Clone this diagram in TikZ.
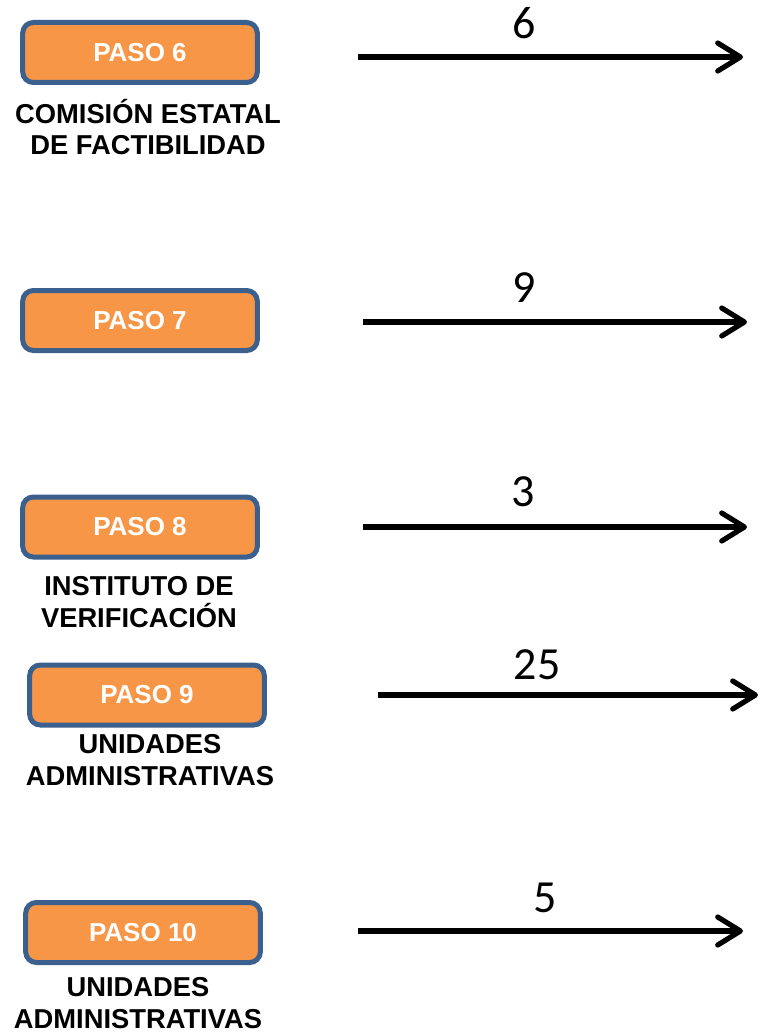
\documentclass[tikz,border=0pt]{standalone}
\usepackage{fontspec}
\setmainfont{Liberation Sans}
\newfontfamily\numfont{Carlito}
\usetikzlibrary{arrows.meta}
\definecolor{naranja}{RGB}{247,150,70}
\definecolor{borde}{RGB}{60,96,142}

\begin{document}
\begin{tikzpicture}[x=0.75pt,y=-0.75pt,
    paso/.style={draw=borde,line width=3.75pt,fill=naranja,rounded corners=8pt,
        minimum width=176pt,minimum height=45pt,text=white,
        font=\fontsize{19.5}{23}\selectfont\bfseries},
    etiqueta/.style={align=center,inner sep=0pt,
        font=\fontsize{20.5}{23.5}\selectfont\bfseries},
    numero/.style={inner sep=0pt,font=\fontsize{34.5}{40}\selectfont\numfont},
    flecha/.style={line width=3.9pt,-{Straight Barb[length=17pt,width=21pt,round]}}]
    \useasboundingbox (0,0) rectangle (761,1034);
            \node (p6) [paso] at (140,52.5) {PASO 6};
            \node (e6) [etiqueta] at (148,127) {COMISIÓN ESTATAL\\DE FACTIBILIDAD};
            \node (p7) [paso] at (140,320.5) {PASO 7};
            \node (p8) [paso] at (140,527) {PASO 8};
            \node (e8) [etiqueta] at (139,602) {INSTITUTO DE\\VERIFICACIÓN};
            \node (p9) [paso] at (147,695) {PASO 9};
            \node (e9) [etiqueta] at (150,760) {UNIDADES\\ADMINISTRATIVAS};
            \node (p10) [paso] at (143,932.5) {PASO 10};
            \node (e10) [etiqueta] at (138,1003) {UNIDADES\\ADMINISTRATIVAS};
            % flechas con los dias
            \coordinate (a6) at (358,57); \coordinate (b6) at (743,57);
            \coordinate (a7) at (363,322); \coordinate (b7) at (747,322);
            \coordinate (a8) at (363,527); \coordinate (b8) at (747,527);
            \coordinate (a9) at (378,695); \coordinate (b9) at (758,695);
            \coordinate (a10) at (358,931); \coordinate (b10) at (743,931);
            \draw[flecha] (a6) -- (b6);
            \draw[flecha] (a7) -- (b7);
            \draw[flecha] (a8) -- (b8);
            \draw[flecha] (a9) -- (b9);
            \draw[flecha] (a10) -- (b10);
            \node (n6) [numero] at (524,23) {6};
            \node (n7) [numero] at (524,288) {9};
            \node (n8) [numero] at (523,492) {3};
            \node (n9) [numero] at (537,665) {25};
            \node (n10) [numero] at (545,898) {5};
        \end{tikzpicture}
\end{document}
